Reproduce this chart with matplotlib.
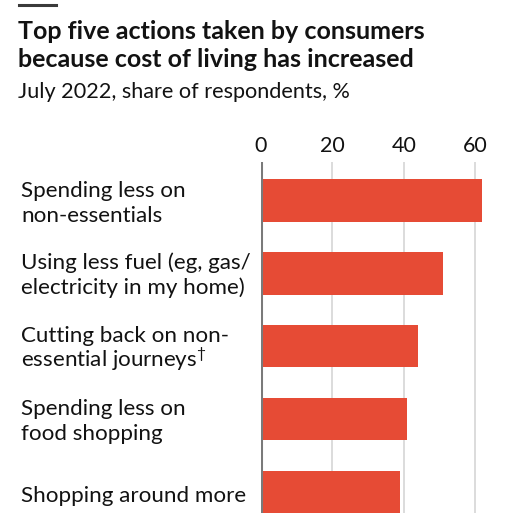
import matplotlib
matplotlib.use("Agg")
import matplotlib.pyplot as plt
from matplotlib.lines import Line2D

categories = [
    ["Spending less on", "non-essentials"],
    ["Using less fuel (eg, gas/", "electricity in my home)"],
    ["Cutting back on non-", "essential journeys$^{\u2020}$"],
    ["Spending less on", "food shopping"],
    ["Shopping around more"],
]
values = [62, 51, 44, 41, 39]
ticks = [0, 20, 40, 60]

title_lines = ["Top five actions taken by consumers",
               "because cost of living has increased"]
subtitle = "July 2022, share of respondents, %"

W, H = 508, 518
plt.rcParams["font.family"] = ["Lato", "DejaVu Sans"]
plt.rcParams["mathtext.fontset"] = "custom"
plt.rcParams["mathtext.rm"] = "Lato"

fig = plt.figure(figsize=(W / 100, H / 100), dpi=100)
fig.patch.set_facecolor("white")

ink = "#121212"
bar_red = "#E64B35"


def fy(px):
    """Figure fraction for a pixel row counted from the top."""
    return 1 - px / H


# plot area in pixel terms
x0_px, px_per_unit = 261, 3.57
top_px, bot_px = 162, 513
xmax = 66
ax = fig.add_axes([x0_px / W, fy(bot_px), xmax * px_per_unit / W, (bot_px - top_px) / H])
ax.set_xlim(0, xmax)
ax.set_ylim(4.29, -0.53)

pos = list(range(len(values)))
ax.barh(pos, values, height=0.58, color=bar_red, zorder=3)

for t in ticks:
    if t == 0:
        ax.axvline(t, color="#7a7a7a", lw=2.2, zorder=4)
    else:
        ax.axvline(t, color="#d6d6d6", lw=1.2, zorder=1)

ax.xaxis.tick_top()
ax.set_xticks(ticks)
ax.set_xticklabels([str(t) for t in ticks], fontsize=15.5, color=ink)
ax.tick_params(axis="x", length=0, pad=4)
ax.set_yticks([])
for s in ax.spines.values():
    s.set_visible(False)

# category labels, left aligned at the figure margin, baselines set per line
for p, lines in zip(pos, categories):
    yc_px = H - ax.transData.transform((0, p))[1]
    if len(lines) == 2:
        offsets = [-4, 21]
    else:
        offsets = [10.5]
    for line, off in zip(lines, offsets):
        fig.text(21 / W, fy(yc_px + off), line, ha="left", va="baseline",
                 fontsize=16.1, color=ink)

# header
fig.add_artist(Line2D([19 / W, 56 / W], [fy(5), fy(5)], color="#3a3a3a", lw=2.2))
for line, base in zip(title_lines, [39, 67]):
    fig.text(18 / W, fy(base), line, ha="left", va="baseline", fontsize=18.0,
             fontweight="bold", color=ink)
fig.text(18 / W, fy(97.5), subtitle, ha="left", va="baseline", fontsize=15.6, color=ink)

fig.savefig("out.png", dpi=100, facecolor="white")
